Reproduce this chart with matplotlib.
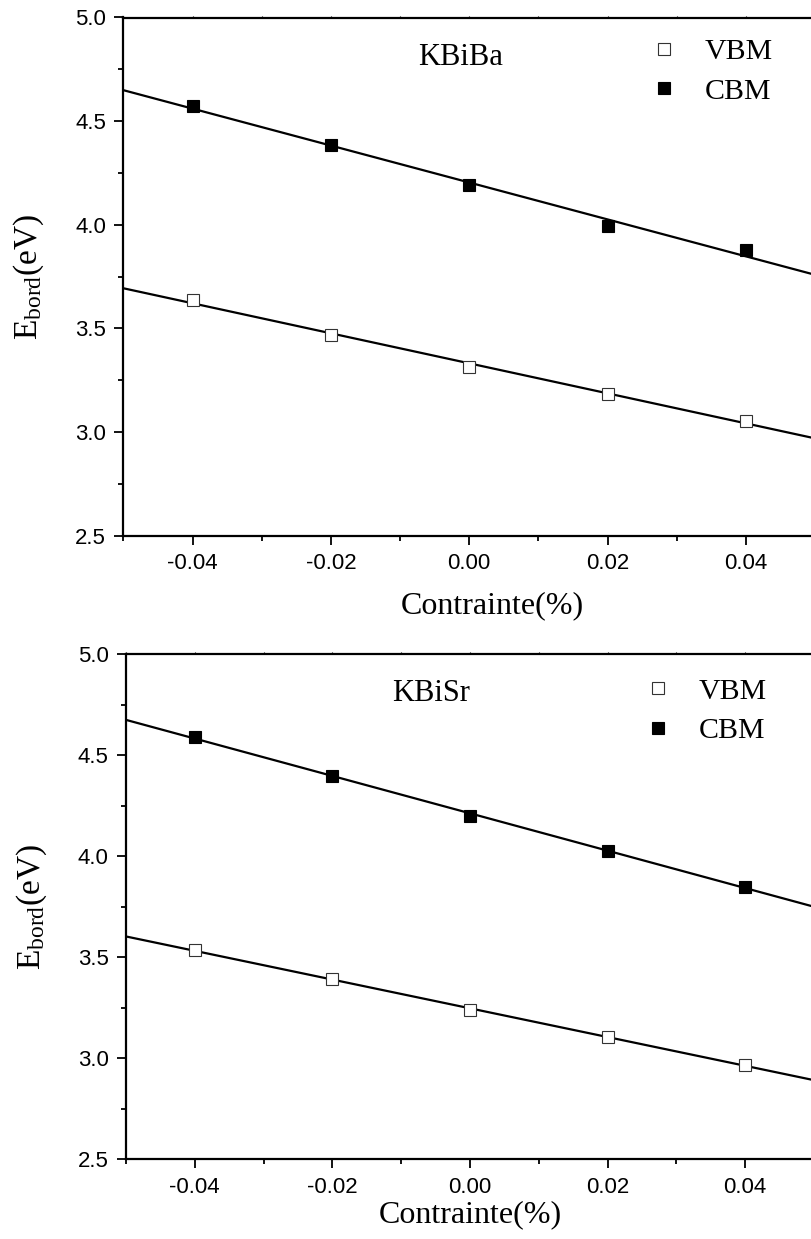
import numpy as np
import matplotlib
matplotlib.use("Agg")
import matplotlib.pyplot as plt
from matplotlib.ticker import MultipleLocator, FormatStrFormatter

plt.rcParams["axes.unicode_minus"] = False
plt.rcParams["mathtext.fontset"] = "custom"
plt.rcParams["mathtext.rm"] = "Liberation Serif"
plt.rcParams["mathtext.it"] = "Liberation Serif:italic"

# strain values (x) and band-edge energies (eV)
strain = [-0.04, -0.02, 0.00, 0.02, 0.04]

kbiba_vbm = [3.637, 3.468, 3.314, 3.184, 3.055]
kbiba_cbm = [4.573, 4.385, 4.190, 3.994, 3.878]

kbisr_vbm = [3.534, 3.392, 3.237, 3.106, 2.966]
kbisr_cbm = [4.588, 4.398, 4.197, 4.027, 3.849]

panels = [
    ("KBiBa", kbiba_vbm, kbiba_cbm),
    ("KBiSr", kbisr_vbm, kbisr_cbm),
]

SERIF = "Liberation Serif"
SANS = "Liberation Sans"

fig = plt.figure(figsize=(8.12, 12.39), dpi=100)
W, H = 812, 1239

# axes boxes in pixels: left, top, right, bottom
boxes = [(123.5, 17.5, 815, 535.7), (126, 654, 814, 1159.3)]
text_pos = [(0.488, 0.922), (0.443, 0.921)]
legend_pos = [(0.760, 0.960), (0.752, 0.953)]
xlabel_xy = [(0.534, -0.108), (0.500, -0.080)]

for i, (name, vbm, cbm) in enumerate(panels):
    l, t, r, b = boxes[i]
    ax = fig.add_axes([l / W, 1 - b / H, (r - l) / W, (b - t) / H])
    ax.set_xlim(-0.05, 0.05)
    ax.set_ylim(2.5, 5.0)

    xs = np.array(strain)
    xl = np.array(ax.get_xlim())
    for vals in (vbm, cbm):
        k, c = np.polyfit(xs, np.array(vals), 1)
        ax.plot(xl, k * xl + c, color="black", lw=1.6, zorder=2)

    ax.plot(strain, vbm, ls="none", marker="s", ms=8.5, mfc="white",
            mec="#333333", mew=0.8, label="VBM", zorder=3)
    ax.plot(strain, cbm, ls="none", marker="s", ms=8.5, mfc="black",
            mec="black", mew=0.8, label="CBM", zorder=3)

    ax.xaxis.set_major_locator(MultipleLocator(0.02))
    ax.xaxis.set_minor_locator(MultipleLocator(0.01))
    ax.xaxis.set_major_formatter(FormatStrFormatter("%.2f"))
    ax.yaxis.set_major_locator(MultipleLocator(0.5))
    ax.yaxis.set_minor_locator(MultipleLocator(0.25))
    ax.yaxis.set_major_formatter(FormatStrFormatter("%.1f"))

    ax.tick_params(which="major", direction="out", length=6.5, width=1.3,
                   labelsize=16, pad=6)
    ax.tick_params(which="minor", direction="out", length=3.6, width=1.3)
    ax.tick_params(axis="x", which="both", top=True, labeltop=False)
    for lab in ax.get_xticklabels() + ax.get_yticklabels():
        lab.set_fontfamily(SANS)
    # short marks on the upper frame
    for tk in ax.xaxis.get_major_ticks() + ax.xaxis.get_minor_ticks():
        tk.tick2line.set_markersize(1.2)
        tk.tick2line.set_markeredgewidth(0.8)

    for side in ("left", "bottom", "top", "right"):
        ax.spines[side].set_linewidth(1.6)

    ax.set_xlabel("Contrainte(%)", fontfamily=SERIF, fontsize=23)
    ax.xaxis.set_label_coords(*xlabel_xy[i])
    ax.set_ylabel(r"E$_{\mathrm{bord}}$(eV)", fontfamily=SERIF, fontsize=24)
    ax.yaxis.set_label_coords(-0.112, 0.5)

    tx, ty = text_pos[i]
    ax.text(tx, ty, name, transform=ax.transAxes, fontfamily=SERIF,
            fontsize=22, ha="center", va="center")

    ax.legend(loc="upper left", bbox_to_anchor=legend_pos[i], frameon=False,
              prop={"family": SERIF, "size": 21.5}, handlelength=1.0,
              handletextpad=0.85, labelspacing=0.42, borderpad=0,
              borderaxespad=0, markerscale=1.0)

fig.savefig("out.png", dpi=100)
